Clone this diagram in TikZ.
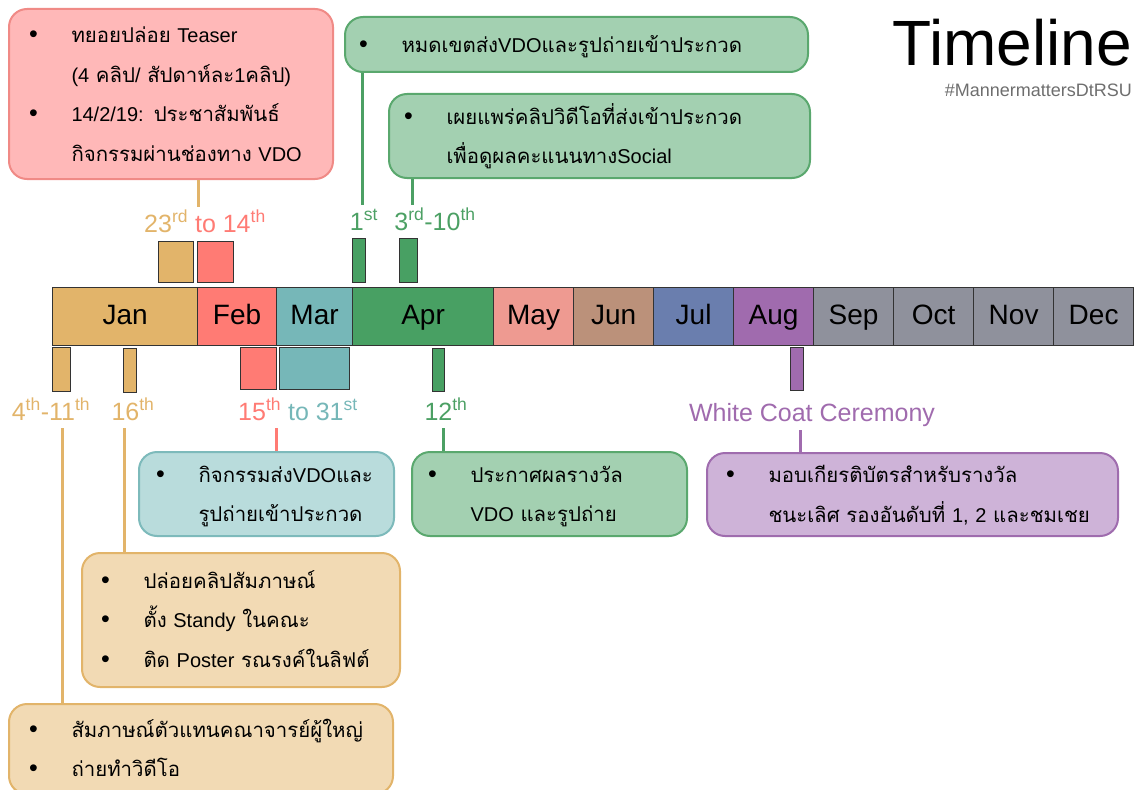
\documentclass[tikz,border=0pt]{standalone}
\usepackage{fontspec}
\setmainfont{Liberation Sans}
\newfontfamily\thaifont[Script=Thai,Scale=1.02]{Loma}
\newcommand\tf[1]{{\thaifont #1}}
\definecolor{cJan}{HTML}{E2B46A}
\definecolor{cFeb}{HTML}{FF7B74}
\definecolor{cMar}{HTML}{76B7B8}
\definecolor{cApr}{HTML}{48A063}
\definecolor{cMay}{HTML}{EE9A91}
\definecolor{cJun}{HTML}{BB917A}
\definecolor{cJul}{HTML}{6A7EAE}
\definecolor{cAug}{HTML}{A06BAE}
\definecolor{cGray}{HTML}{8F919C}
\definecolor{fPink}{HTML}{FFB8B8}\definecolor{bPink}{HTML}{F08A86}
\definecolor{fGreen}{HTML}{A3D0B1}\definecolor{bGreen}{HTML}{5AA86E}
\definecolor{fTeal}{HTML}{B9DCDC}\definecolor{bTeal}{HTML}{7DBABB}
\definecolor{fPurp}{HTML}{CEB3D8}\definecolor{bPurp}{HTML}{9F6CAE}
\definecolor{fTan}{HTML}{F2DAB4}\definecolor{bTan}{HTML}{E2B46A}
\definecolor{lGreen}{HTML}{4CA064}
\definecolor{tagGray}{HTML}{6E6E6E}
\newcommand\bu{{\fontsize{25}{25}\selectfont\textbullet}}
\newcommand\bpt[1]{\begin{tabular}{@{}p{42.5pt}@{}l@{}}#1\end{tabular}}
\tikzset{
  month/.style={draw=black!80, line width=1.2pt, minimum height=58pt, anchor=north west, inner sep=0pt, text height=20pt, text depth=5pt, font=\fontsize{28}{30}\selectfont},
  marker/.style={draw=black!80, line width=1.2pt, anchor=north west, inner sep=0pt},
  evbox/.style={rounded corners=18pt, line width=2pt, anchor=north west, inner ysep=0pt, align=left, font=\fontsize{20}{39.5}\selectfont},
  lbl/.style={font=\fontsize{25}{25}\selectfont, inner sep=0pt, anchor=base},
  conn/.style={line width=3pt}
}
\begin{document}
\begin{tikzpicture}[x=1pt,y=-1pt]
\useasboundingbox (0,0) rectangle (1147,789);
% month bar
\node[month, fill=cJan, minimum width=145pt] (jan) at (52,287) {Jan};
\node[month, fill=cFeb, minimum width=79pt] (feb) at (197,287) {Feb};
\node[month, fill=cMar, minimum width=76pt] (mar) at (276,287) {Mar};
\node[month, fill=cApr, minimum width=141pt] (apr) at (352,287) {Apr};
\node[month, fill=cMay, minimum width=80pt] (may) at (493,287) {May};
\node[month, fill=cJun, minimum width=80pt] (jun) at (573,287) {Jun};
\node[month, fill=cJul, minimum width=80pt] (jul) at (653,287) {Jul};
\node[month, fill=cAug, minimum width=80pt] (aug) at (733,287) {Aug};
\node[month, fill=cGray, minimum width=80pt] (sep) at (813,287) {Sep};
\node[month, fill=cGray, minimum width=80pt] (oct) at (893,287) {Oct};
\node[month, fill=cGray, minimum width=80pt] (nov) at (973,287) {Nov};
\node[month, fill=cGray, minimum width=80pt] (dec) at (1053,287) {Dec};
% markers above
\node[marker, fill=cJan, minimum width=35pt, minimum height=41pt] (mA1) at (158,241) {};
\node[marker, fill=cFeb, minimum width=36pt, minimum height=41pt] (mA2) at (197,241) {};
\node[marker, fill=cApr, minimum width=13pt, minimum height=44pt] (mA3) at (352,238) {};
\node[marker, fill=cApr, minimum width=18pt, minimum height=44pt] (mA4) at (399,238) {};
% markers below
\node[marker, fill=cJan, minimum width=18pt, minimum height=44pt] (mB1) at (52,347) {};
\node[marker, fill=cJan, minimum width=13pt, minimum height=44pt] (mB2) at (123,348) {};
\node[marker, fill=cFeb, minimum width=36pt, minimum height=42pt] (mB3) at (240,347) {};
\node[marker, fill=cMar, minimum width=70pt, minimum height=42pt] (mB4) at (279,347) {};
\node[marker, fill=cApr, minimum width=12pt, minimum height=43pt] (mB5) at (432,348) {};
\node[marker, fill=cAug, minimum width=13pt, minimum height=43pt] (mB6) at (790,347) {};
% title
\node[anchor=base east, font=\fontsize{64}{64}\selectfont, inner sep=0pt] (title) at (1132,66) {Timeline};
\node[anchor=base east, text=tagGray, font=\fontsize{18}{18}\selectfont, inner sep=0pt] (tag) at (1132,97) {\#MannermattersDtRSU};
% boxes
\node[evbox, fill=fPink, draw=bPink, minimum width=324pt, minimum height=170pt, inner xsep=20pt, text width=284pt] (bPinkBox) at (8,8)
 {\bpt{\bu & \tf{ทยอยปล่อย} Teaser\\ & (4 \tf{คลิป}/ \tf{สัปดาห์ละ}1\tf{คลิป})\\ \bu & 14/2/19: \tf{ประชาสัมพันธ์}\\ & \tf{กิจกรรมผ่านช่องทาง} VDO}};
\node[evbox, fill=fGreen, draw=bGreen, minimum width=463pt, minimum height=55pt, inner xsep=14pt, text width=435pt] (bG1) at (344,16)
 {\bpt{\bu & \tf{หมดเขตส่ง}VDO\tf{และรูปถ่ายเข้าประกวด}}};
\node[evbox, fill=fGreen, draw=bGreen, minimum width=421pt, minimum height=84pt, inner xsep=15pt, text width=391pt] (bG2) at (388,93)
 {\bpt{\bu & \tf{เผยแพร่คลิปวิดีโอที่ส่งเข้าประกวด}\\ & \tf{เพื่อดูผลคะแนนทาง}Social}};
\node[evbox, fill=fTeal, draw=bTeal, minimum width=255pt, minimum height=84pt, inner xsep=17pt, text width=221pt] (bT) at (138,451)
 {\bpt{\bu & \tf{กิจกรรมส่ง}VDO\tf{และ}\\ & \tf{รูปถ่ายเข้าประกวด}}};
\node[evbox, fill=fGreen, draw=bGreen, minimum width=275pt, minimum height=84pt, inner xsep=16pt, text width=243pt] (bG3) at (411,451)
 {\bpt{\bu & \tf{ประกาศผลรางวัล}\\ & VDO \tf{และรูปถ่าย}}};
\node[evbox, fill=fPurp, draw=bPurp, minimum width=411pt, minimum height=83pt, inner xsep=19pt, text width=373pt] (bP) at (706,452)
 {\bpt{\bu & \tf{มอบเกียรติบัตรสำหรับรางวัล}\\ & \tf{ชนะเลิศ รองอันดับที่} 1, 2 \tf{และชมเชย}}};
\node[evbox, fill=fTan, draw=bTan, minimum width=318pt, minimum height=134pt, inner xsep=19pt, text width=280pt] (bTan1) at (81,552)
 {\bpt{\bu & \tf{ปล่อยคลิปสัมภาษณ์}\\ \bu & \tf{ตั้ง} Standy \tf{ในคณะ}\\ \bu & \tf{ติด} Poster \tf{รณรงค์ในลิฟต์}}};
\node[evbox, fill=fTan, draw=bTan, minimum width=384pt, minimum height=90pt, inner xsep=20pt, text width=344pt] (bTan2) at (8,703)
 {\bpt{\bu & \tf{สัมภาษณ์ตัวแทนคณาจารย์ผู้ใหญ่}\\ \bu & \tf{ถ่ายทำวิดีโอ}}};
% labels
\node[lbl] (l1) at (205,232) {\textcolor{cJan}{23\textsuperscript{rd}} \textcolor{cFeb}{to 14\textsuperscript{th}}};
\node[lbl, text=lGreen] (l2) at (364,230) {1\textsuperscript{st}};
\node[lbl, text=lGreen] (l3) at (435,230) {3\textsuperscript{rd}-10\textsuperscript{th}};
\node[lbl, text=cJan] (l4) at (51,420) {4\textsuperscript{th}-11\textsuperscript{th}};
\node[lbl, text=cJan] (l5) at (133,420) {16\textsuperscript{th}};
\node[lbl] (l6) at (298,420) {\textcolor{cFeb}{15\textsuperscript{th}} \textcolor{cMar}{to 31\textsuperscript{st}}};
\node[lbl, text=lGreen] (l7) at (446,420) {12\textsuperscript{th}};
\node[lbl, text=cAug] (l8) at (812,421) {White Coat Ceremony};
% connectors
\coordinate (c1) at (198,207);
\coordinate (c2) at (362,205);
\coordinate (c3) at (412,205);
\coordinate (c4) at (62,428);
\coordinate (c5) at (124,428);
\coordinate (c6) at (276,428);
\coordinate (c7) at (443,428);
\coordinate (c8) at (800,430);
\draw[conn, cJan] (bPinkBox.south -| c1) -- (c1);
\draw[conn, lGreen] (bG1.south -| c2) -- (c2);
\draw[conn, lGreen] (bG2.south -| c3) -- (c3);
\draw[conn, cJan] (c4) -- (bTan2.north -| c4);
\draw[conn, cJan] (c5) -- (bTan1.north -| c5);
\draw[conn, cFeb] (c6) -- (bT.north -| c6);
\draw[conn, lGreen] (c7) -- (bG3.north -| c7);
\draw[conn, cAug] (c8) -- (bP.north -| c8);
\end{tikzpicture}
\end{document}
